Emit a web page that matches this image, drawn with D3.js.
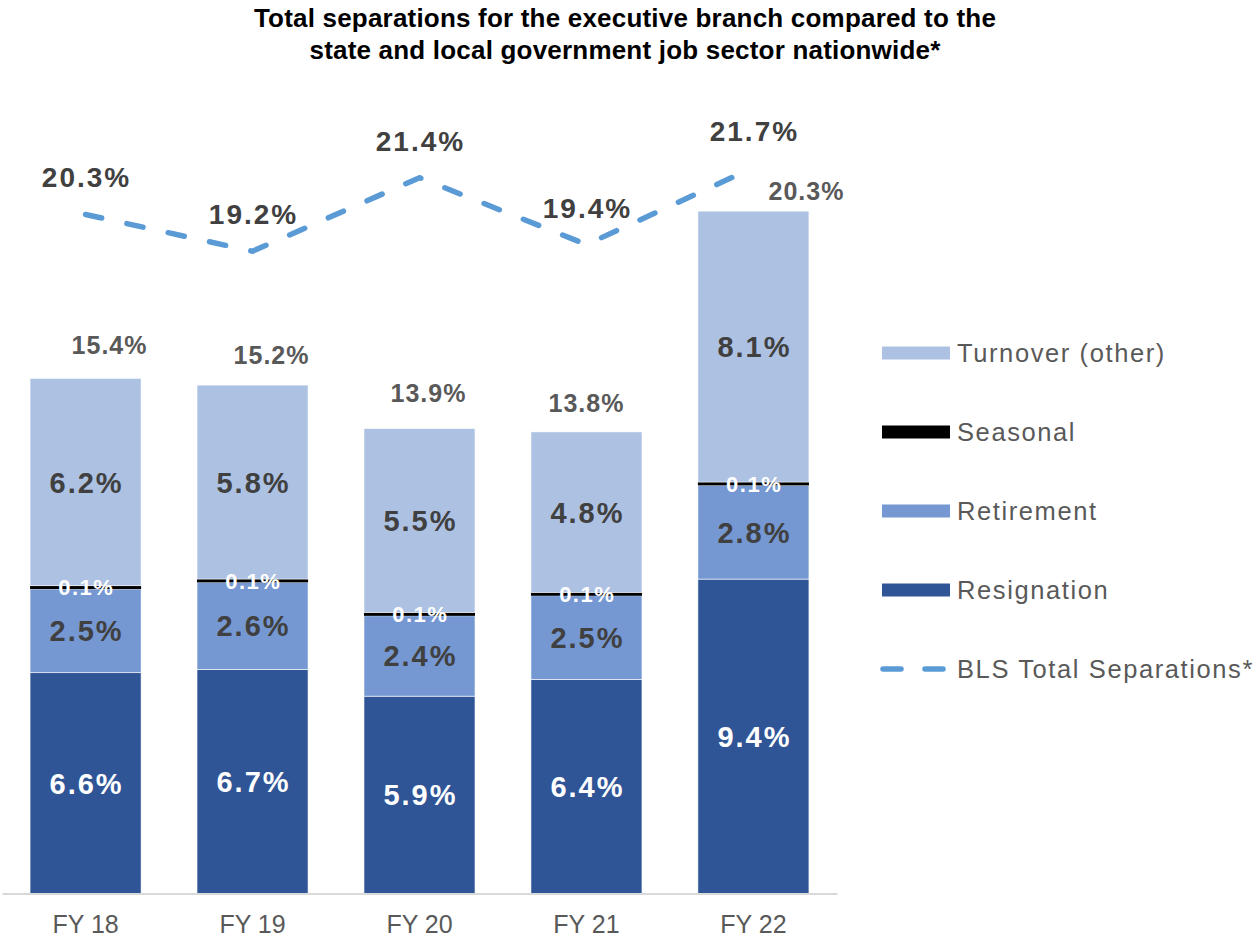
<!DOCTYPE html>
<html>
<head>
<meta charset="utf-8">
<script src="https://cdn.jsdelivr.net/npm/d3@7"></script>
<style>
  html, body { margin: 0; padding: 0; background: #ffffff; }
  svg { display: block; font-family: "Liberation Sans", Arial, sans-serif; }
</style>
</head>
<body>
<svg id="chart" width="1254" height="941"></svg>
<script>
// Fiscal years on the x axis
const categories = ["FY 18", "FY 19", "FY 20", "FY 21", "FY 22"];

// Executive branch separations by type (% of workforce)
const resignation = [6.6, 6.7, 5.9, 6.4, 9.4];
const retirement  = [2.5, 2.6, 2.4, 2.5, 2.8];
const seasonal    = [0.1, 0.1, 0.1, 0.1, 0.1];
const turnover    = [6.2, 5.8, 5.5, 4.8, 8.1];

// Reported totals for the executive branch
const totals = [15.4, 15.2, 13.9, 13.8, 20.3];

// BLS state and local government total separations (%)
const bls = [20.3, 19.2, 21.4, 19.4, 21.7];

const seriesNames = ["Resignation", "Retirement", "Seasonal", "Turnover (other)"];
const seriesValues = [resignation, retirement, seasonal, turnover];
const colors = {
  "Resignation": "#2F5597",
  "Retirement": "#7598D3",
  "Seasonal": "#000000",
  "Turnover (other)": "#ADC2E3"
};
const lineColor = "#5B9BD5";

const svg = d3.select("#chart");
const baseY = 893.5;
const pxPerPct = 33.45;

const x = d3.scaleBand()
  .domain(categories)
  .range([2, 837])
  .paddingInner(0.335)
  .paddingOuter(0.168);

const y = d3.scaleLinear()
  .domain([0, 25])
  .range([baseY, baseY - 25 * pxPerPct]);

// Title
const title = svg.append("text")
  .attr("text-anchor", "middle")
  .attr("font-weight", "bold")
  .attr("font-size", 26)
  .attr("letter-spacing", 0.2)
  .attr("fill", "#000");
title.append("tspan").attr("x", 625).attr("y", 27)
  .text("Total separations for the executive branch compared to the");
title.append("tspan").attr("x", 625).attr("y", 59)
  .text("state and local government job sector nationwide*");

// Stack the series
const rows = categories.map((c, i) => {
  const r = { cat: c };
  seriesNames.forEach((s, k) => { r[s] = seriesValues[k][i]; });
  return r;
});
const stacked = d3.stack().keys(seriesNames)(rows);

const gBars = svg.append("g");
stacked.forEach(layer => {
  gBars.selectAll(null)
    .data(layer)
    .join("rect")
    .attr("x", d => x(d.data.cat))
    .attr("width", x.bandwidth())
    .attr("y", d => y(d[1]))
    .attr("height", d => y(d[0]) - y(d[1]))
    .attr("fill", colors[layer.key])
    .attr("stroke", layer.key === "Seasonal" ? "none" : "#ffffff")
    .attr("stroke-width", 0.6);
});

// Segment value labels
const labelStyle = {
  "Resignation": { fill: "#ffffff", size: 29, ls: 2 },
  "Retirement": { fill: "#404040", size: 29, ls: 2 },
  "Seasonal": { fill: "#ffffff", size: 22, ls: 1.5 },
  "Turnover (other)": { fill: "#404040", size: 29, ls: 2 }
};
stacked.forEach(layer => {
  const st = labelStyle[layer.key];
  svg.append("g").selectAll("text")
    .data(layer)
    .join("text")
    .attr("x", d => x(d.data.cat) + x.bandwidth() / 2 + st.ls / 2)
    .attr("y", d => (y(d[0]) + y(d[1])) / 2)
    .attr("dy", "0.36em")
    .attr("text-anchor", "middle")
    .attr("font-weight", "bold")
    .attr("font-size", st.size)
    .attr("letter-spacing", st.ls)
    .attr("fill", st.fill)
    .text(d => d.data[layer.key].toFixed(1) + "%");
});

// Total labels above each bar (hand-placed nudges)
const totalNudge = [[24, -24], [19, -21], [9, -27], [0, -20], [53, -14]];
svg.append("g").selectAll("text")
  .data(totals)
  .join("text")
  .attr("x", (d, i) => x(categories[i]) + x.bandwidth() / 2 + totalNudge[i][0])
  .attr("y", (d, i) => y(d) + totalNudge[i][1])
  .attr("text-anchor", "middle")
  .attr("font-weight", "bold")
  .attr("font-size", 25)
  .attr("letter-spacing", 1)
  .attr("fill", "#595959")
  .text(d => d.toFixed(1) + "%");

// BLS dashed line
const line = d3.line()
  .x((d, i) => x(categories[i]) + x.bandwidth() / 2)
  .y(d => y(d));
svg.append("path")
  .datum(bls)
  .attr("d", line)
  .attr("fill", "none")
  .attr("stroke", lineColor)
  .attr("stroke-width", 5.5)
  .attr("stroke-linecap", "round")
  .attr("stroke-linejoin", "round")
  .attr("stroke-dasharray", "16.5 25.8");

svg.append("g").selectAll("text")
  .data(bls)
  .join("text")
  .attr("x", (d, i) => x(categories[i]) + x.bandwidth() / 2 + 1)
  .attr("y", d => y(d) - 27)
  .attr("text-anchor", "middle")
  .attr("font-weight", "bold")
  .attr("font-size", 28)
  .attr("letter-spacing", 2)
  .attr("fill", "#404040")
  .text(d => d.toFixed(1) + "%");

// X axis
const xAxis = svg.append("g")
  .attr("transform", `translate(0,${baseY})`)
  .call(d3.axisBottom(x).tickSize(0).tickPadding(22));
xAxis.select(".domain").attr("stroke", "#D9D9D9").attr("stroke-width", 2);
xAxis.selectAll("text")
  .attr("font-family", "\"Liberation Sans\", Arial, sans-serif")
  .attr("font-size", 25)
  .attr("fill", "#595959");

// Legend
const legendItems = [
  { name: "Turnover (other)", type: "rect" },
  { name: "Seasonal", type: "rect" },
  { name: "Retirement", type: "rect" },
  { name: "Resignation", type: "rect" },
  { name: "BLS Total Separations*", type: "line" }
];
const lg = svg.append("g");
legendItems.forEach((item, i) => {
  const cy = 353 + i * 79;
  if (item.type === "rect") {
    lg.append("rect")
      .attr("x", 882).attr("y", cy - 6.5)
      .attr("width", 68).attr("height", 13)
      .attr("fill", colors[item.name]);
  } else {
    [[883, 901], [925, 943]].forEach(([a, b]) => {
      lg.append("line")
        .attr("x1", a).attr("x2", b)
        .attr("y1", cy).attr("y2", cy)
        .attr("stroke", lineColor)
        .attr("stroke-width", 5.5)
        .attr("stroke-linecap", "round");
    });
  }
  lg.append("text")
    .attr("x", 957).attr("y", cy)
    .attr("dy", "0.36em")
    .attr("font-size", 25.5)
    .attr("letter-spacing", 1.6)
    .attr("fill", "#595959")
    .text(item.name);
});
</script>
</body>
</html>
